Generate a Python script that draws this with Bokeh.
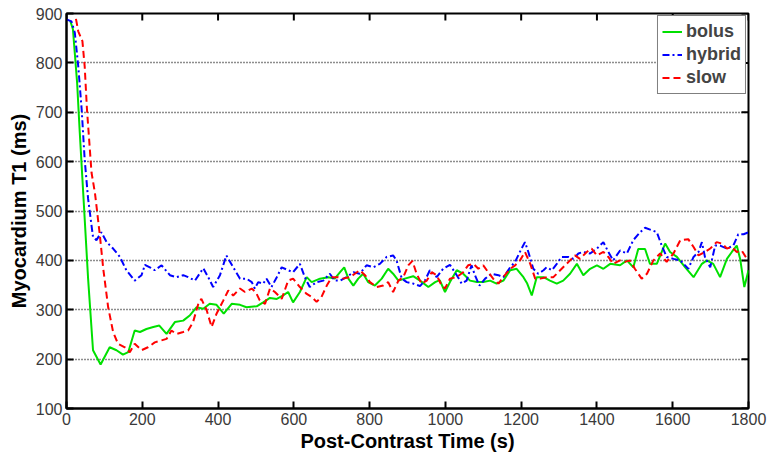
import math
from bokeh.plotting import figure
from bokeh.models import Range1d, FixedTicker, Legend, LegendItem
from bokeh.embed import file_html
from bokeh.resources import INLINE

# ---- data ----
bolus_t = [10, 17, 28, 35, 42, 57, 70, 90, 114, 132,
           149, 163, 180, 194, 211, 229, 245, 264, 286, 308,
           326, 343, 361, 378, 396, 415, 436, 458, 475, 502,
           519, 537, 555, 572, 585, 598, 616, 634, 647, 669,
           691, 708, 722, 733, 744, 757, 770, 783, 796, 814,
           832, 849, 862, 876, 893, 915, 933, 955, 973, 985,
           999, 1012, 1030, 1047, 1065, 1083, 1100, 1118, 1135, 1153,
           1171, 1188, 1206, 1216, 1228, 1241, 1259, 1276, 1294, 1311,
           1329, 1347, 1364, 1382, 1400, 1417, 1435, 1461, 1479, 1496,
           1509, 1527, 1540, 1558, 1571, 1580, 1593, 1611, 1633, 1655,
           1677, 1690, 1707, 1725, 1743, 1756, 1769, 1778, 1789, 1800]
bolus_v = [885, 868, 760, 659, 565, 363, 218, 189, 224, 218,
           209, 214, 258, 255, 261, 265, 268, 251, 275, 278,
           289, 305, 302, 312, 310, 292, 312, 310, 305, 307,
           315, 324, 322, 329, 336, 315, 336, 366, 356, 363,
           366, 363, 376, 386, 363, 349, 363, 373, 356, 349,
           363, 383, 373, 359, 363, 368, 359, 346, 356, 360,
           336, 356, 380, 373, 359, 356, 356, 359, 353, 359,
           380, 383, 366, 353, 329, 366, 366, 359, 353, 359,
           373, 393, 370, 383, 390, 383, 393, 390, 400, 386,
           423, 423, 393, 393, 417, 434, 417, 407, 386, 366,
           393, 400, 393, 366, 403, 417, 430, 403, 346, 380]

hybrid_t = [0, 13, 22, 31, 40, 48, 57, 70, 79, 92,
            106, 123, 141, 158, 180, 198, 207, 220, 233, 251,
            273, 290, 308, 321, 339, 361, 374, 387, 405, 422,
            440, 458, 475, 489, 497, 506, 519, 528, 541, 555,
            568, 585, 598, 616, 629, 642, 660, 678, 695, 708,
            722, 739, 757, 774, 792, 810, 827, 845, 862, 871,
            885, 898, 915, 933, 946, 959, 977, 994, 1012, 1030,
            1043, 1056, 1069, 1078, 1090, 1105, 1122, 1140, 1153, 1171,
            1184, 1201, 1210, 1219, 1232, 1245, 1259, 1267, 1281, 1294,
            1307, 1325, 1338, 1351, 1364, 1382, 1400, 1417, 1430, 1443,
            1461, 1479, 1496, 1514, 1527, 1545, 1558, 1571, 1584, 1602,
            1620, 1641, 1655, 1668, 1677, 1685, 1699, 1712, 1725, 1743,
            1760, 1773, 1787, 1800]
hybrid_v = [888, 884, 861, 793, 706, 604, 525, 447, 441, 457,
            437, 424, 407, 380, 359, 370, 391, 386, 380, 390,
            370, 366, 370, 366, 359, 384, 366, 346, 370, 410,
            386, 363, 363, 356, 343, 356, 353, 363, 346, 366,
            386, 380, 376, 393, 366, 346, 356, 359, 373, 359,
            359, 366, 376, 373, 390, 386, 393, 407, 410, 400,
            363, 356, 353, 348, 359, 380, 366, 383, 391, 370,
            353, 359, 390, 370, 349, 363, 373, 370, 366, 386,
            397, 424, 437, 417, 383, 373, 380, 386, 380, 393,
            407, 407, 403, 414, 417, 414, 424, 437, 417, 400,
            420, 414, 441, 457, 466, 461, 457, 430, 407, 403,
            400, 383, 407, 417, 437, 407, 386, 430, 430, 424,
            430, 453, 453, 457]

slow_t = [25, 31, 42, 48, 54, 66, 75, 79, 88, 97,
          110, 123, 136, 154, 167, 180, 198, 215, 233, 251,
          264, 277, 290, 308, 321, 334, 348, 356, 370, 383,
          396, 414, 427, 440, 458, 471, 489, 500, 510, 524,
          537, 550, 568, 585, 598, 616, 634, 647, 660, 673,
          687, 700, 717, 730, 748, 761, 774, 788, 801, 819,
          836, 849, 862, 876, 889, 902, 913, 924, 937, 951,
          964, 977, 990, 999, 1012, 1030, 1047, 1060, 1074, 1087,
          1100, 1113, 1126, 1140, 1157, 1171, 1184, 1197, 1210, 1224,
          1237, 1250, 1268, 1285, 1303, 1316, 1329, 1342, 1355, 1373,
          1386, 1400, 1417, 1430, 1443, 1461, 1474, 1487, 1500, 1518,
          1532, 1549, 1567, 1584, 1602, 1620, 1641, 1655, 1668, 1685,
          1699, 1716, 1730, 1743, 1756, 1769, 1782, 1796]
slow_v = [889, 864, 844, 793, 706, 578, 537, 511, 451, 383,
          305, 255, 231, 224, 214, 231, 218, 224, 234, 238,
          241, 258, 251, 255, 258, 275, 312, 322, 299, 265,
          292, 319, 339, 329, 343, 336, 343, 335, 319, 312,
          343, 336, 322, 359, 363, 346, 332, 326, 316, 326,
          349, 366, 366, 363, 366, 373, 380, 370, 356, 346,
          349, 356, 336, 359, 366, 390, 399, 373, 353, 359,
          376, 370, 349, 343, 363, 366, 376, 390, 393, 383,
          390, 376, 363, 353, 370, 383, 390, 400, 417, 393,
          363, 363, 366, 366, 380, 390, 400, 410, 403, 417,
          424, 410, 417, 407, 393, 400, 397, 400, 383, 363,
          373, 400, 414, 397, 414, 441, 443, 427, 410, 417,
          424, 437, 434, 424, 427, 417, 420, 403]

x_ticks = [0, 200, 400, 600, 800, 1000, 1200, 1400, 1600, 1800]
y_ticks = [100, 200, 300, 400, 500, 600, 700, 800, 900]
x_min, x_max = 0, 1800
y_min, y_max = 100, 900

FONT = "'Liberation Sans', Arial, sans-serif"

p = figure(width=768, height=456,
           x_range=Range1d(x_min, x_max), y_range=Range1d(y_min, y_max),
           output_backend="svg", toolbar_location=None,
           min_border_left=66, min_border_right=20,
           min_border_top=13, min_border_bottom=48,
           x_axis_label="Post-Contrast Time (s)",
           y_axis_label="Myocardium T1 (ms)")

p.outline_line_color = "black"
p.outline_line_width = 2
p.background_fill_color = "white"
p.border_fill_color = "white"

p.xgrid.visible = False
p.ygrid.ticker = FixedTicker(ticks=y_ticks)
p.ygrid.grid_line_color = "#1a1a1a"
p.ygrid.grid_line_dash = "1 2"
p.ygrid.grid_line_width = 1.3

for ax, ticks in ((p.xaxis[0], x_ticks), (p.yaxis[0], y_ticks)):
    ax.ticker = FixedTicker(ticks=ticks)
    ax.axis_line_color = "black"
    ax.axis_line_width = 2
    ax.major_tick_in = 7
    ax.major_tick_out = 0
    ax.major_tick_line_width = 2
    ax.minor_tick_line_color = None
    ax.major_label_text_font = FONT
    ax.major_label_text_font_size = "16px"
    ax.major_label_text_color = "#3a3a3a"
    ax.axis_label_text_font = FONT
    ax.axis_label_text_font_size = "20px"
    ax.axis_label_text_font_style = "bold"
    ax.axis_label_text_color = "black"

p.xaxis[0].major_label_standoff = 4
p.xaxis[0].axis_label_standoff = 2
p.yaxis[0].major_label_standoff = 4
p.yaxis[0].axis_label_standoff = 3

# inward box ticks on the top and right edges (half of each dash is clipped by the frame)
p.scatter(x_ticks, [y_max] * len(x_ticks), marker="dash", size=14,
          angle=math.pi / 2, line_color="black", line_width=2)
p.scatter([x_max] * len(y_ticks), y_ticks, marker="dash", size=14,
          line_color="black", line_width=2)

r_bolus = p.line(bolus_t, bolus_v, line_color="#00e000", line_width=2)
r_hybrid = p.line(hybrid_t, hybrid_v, line_color="#0000ff", line_width=2,
                  line_dash="7 3 2 3")
r_slow = p.line(slow_t, slow_v, line_color="#ff0000", line_width=2,
                line_dash="7 4")

legend = Legend(items=[LegendItem(label="bolus", renderers=[r_bolus]),
                       LegendItem(label="hybrid", renderers=[r_hybrid]),
                       LegendItem(label="slow", renderers=[r_slow])],
                location="top_right")
legend.margin = 2
legend.padding = 4
legend.spacing = 0
legend.glyph_width = 20
legend.glyph_height = 23
legend.label_height = 23
legend.label_standoff = 4
legend.label_text_font = FONT
legend.label_text_font_size = "18px"
legend.label_text_font_style = "bold"
legend.border_line_color = "black"
legend.border_line_width = 1.5
legend.background_fill_color = "white"
legend.background_fill_alpha = 1
p.add_layout(legend)

open("out.html", "w").write(file_html(p, INLINE))
